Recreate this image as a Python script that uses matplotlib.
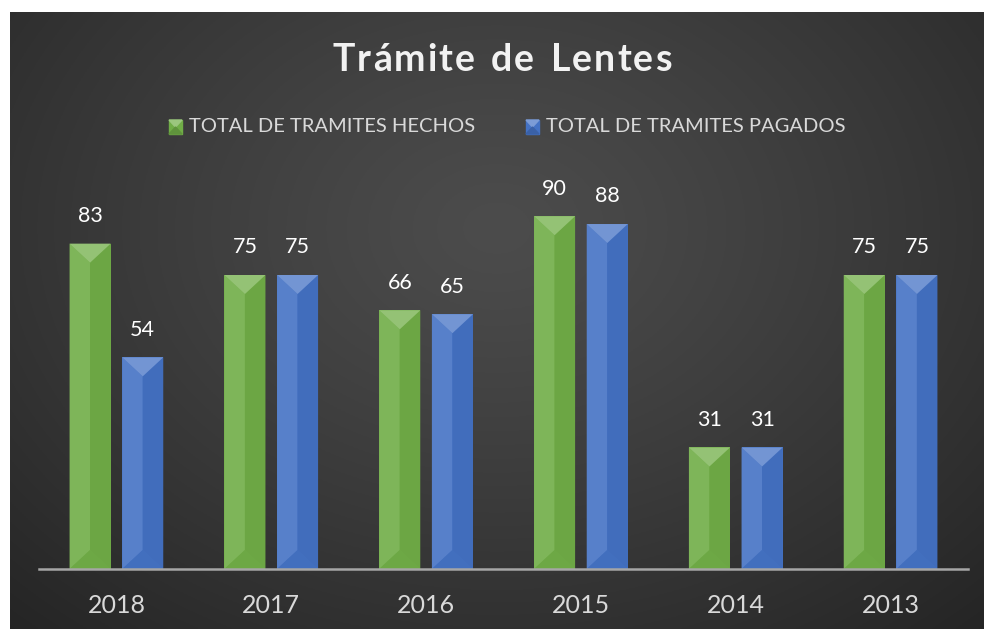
import numpy as np
import matplotlib
matplotlib.use('Agg')
from matplotlib import pyplot as plt
from matplotlib.patches import Polygon
import matplotlib.colors as mcolors

anios = ['2018', '2017', '2016', '2015', '2014', '2013']
hechos = [83, 75, 66, 90, 31, 75]
pagados = [54, 75, 65, 88, 31, 75]
serie_hechos = 'TOTAL DE TRAMITES HECHOS'
serie_pagados = 'TOTAL DE TRAMITES PAGADOS'
titulo = 'Trámite de Lentes'

verde = '#70ad47'
azul = '#4472c4'
texto = '#d9d9d9'

plt.rcParams['font.family'] = ['Lato', 'DejaVu Sans']

fig = plt.figure(figsize=(9.84, 6.29), dpi=100)
fig.patch.set_facecolor('white')

# fondo oscuro con degradado radial
bg = fig.add_axes([10/984, 0, 974/984, 617/629])
bg.set_axis_off()
yy, xx = np.mgrid[0:1:300j, 0:1:480j]
r = np.sqrt(((xx-0.5)/0.75)**2 + ((yy-0.35)/0.9)**2)
r = np.clip(r, 0, 1)
c0, c1 = 0x4c/255, 0x24/255
img = c0 + (c1-c0)*r**1.2
bg.imshow(np.dstack([img, img, img]), aspect='auto', extent=[0, 1, 1, 0])
bg.set_xlim(0, 1)
bg.set_ylim(1, 0)

ax = fig.add_axes([39/984, 60/629, 929/984, 392/629])
ax.patch.set_alpha(0)
ax.set_xlim(-0.5, len(anios)-0.5)
ax.set_ylim(0, 100)

x = np.arange(len(anios))
w = 0.265
b1 = ax.bar(x-0.17, hechos, w, color=verde, zorder=2)
b2 = ax.bar(x+0.17, pagados, w, color=azul, zorder=2)


def mezcla(col, otro, f):
    a = np.array(mcolors.to_rgb(col))
    b = np.array(mcolors.to_rgb(otro))
    return tuple(a*(1-f)+b*f)


d = 19/3.92  # profundidad del bisel en unidades de datos
for barras, col in [(b1, verde), (b2, azul)]:
    for rect in barras:
        x0 = rect.get_x()
        x1 = x0 + rect.get_width()
        xc = (x0+x1)/2
        h = rect.get_height()
        ax.add_patch(Polygon([(x0, h), (xc, h-d), (xc, d), (x0, 0)],
                             color=mezcla(col, 'white', 0.10), lw=0, zorder=3))
        ax.add_patch(Polygon([(x1, h), (xc, h-d), (xc, d), (x1, 0)],
                             color=mezcla(col, 'black', 0.04), lw=0, zorder=3))
        ax.add_patch(Polygon([(x0, h), (x1, h), (xc, h-d)],
                             color=mezcla(col, 'white', 0.25), lw=0, zorder=3))
        ax.add_patch(Polygon([(x0, 0), (x1, 0), (xc, d)],
                             color=mezcla(col, 'black', 0.03), lw=0, zorder=3))
        ax.text(xc, h+4.5, str(int(h)), ha='center', va='bottom',
                color='white', fontsize=15.5)

for s in ['top', 'right', 'left']:
    ax.spines[s].set_visible(False)
ax.spines['bottom'].set_color('#a6a6a6')
ax.spines['bottom'].set_linewidth(1.8)
ax.spines['bottom'].set_zorder(4)
ax.set_yticks([])
ax.set_xticks(x)
ax.set_xticklabels(anios, fontsize=18, color=texto)
ax.tick_params(axis='x', length=0, pad=18)

# leyenda (marcadores con bisel)
ly = 1-127/629
for px, col, lab in [(169, verde, serie_hechos), (526, azul, serie_pagados)]:
    l, r_, t, b = px/984, (px+13)/984, ly+7/629, ly-7/629
    mc = (l+r_)/2
    fig.patches.append(Polygon([(l, t), (r_, t), (r_, b), (l, b)],
                               transform=fig.transFigure, color=col))
    fig.patches.append(Polygon([(l, t), (r_, t), (mc, ly)],
                               transform=fig.transFigure,
                               color=mezcla(col, 'white', 0.3)))
    fig.patches.append(Polygon([(l, b), (r_, b), (mc, ly)],
                               transform=fig.transFigure,
                               color=mezcla(col, 'black', 0.15)))
    fig.text((px+20)/984, ly, lab, color=texto, fontsize=14.5, va='center')

# titulo con espaciado entre letras
fig.canvas.draw()
ren = fig.canvas.get_renderer()
anchos = []
for ch in titulo:
    t = fig.text(0, 0, ch if ch != ' ' else 'n', fontsize=27, fontweight='bold')
    anchos.append(t.get_window_extent(ren).width * (0.6 if ch == ' ' else 1))
    t.remove()
esp = 2.0
total = sum(anchos) + esp*(len(titulo)-1)
xp = 502 - total/2
for ch, a in zip(titulo, anchos):
    if ch != ' ':
        fig.text(xp/984, 1-60/629, ch, fontsize=27, fontweight='bold',
                 color='#f2f2f2', va='center')
    xp += a + esp

fig.savefig('out.png', dpi=100, facecolor=fig.get_facecolor())
